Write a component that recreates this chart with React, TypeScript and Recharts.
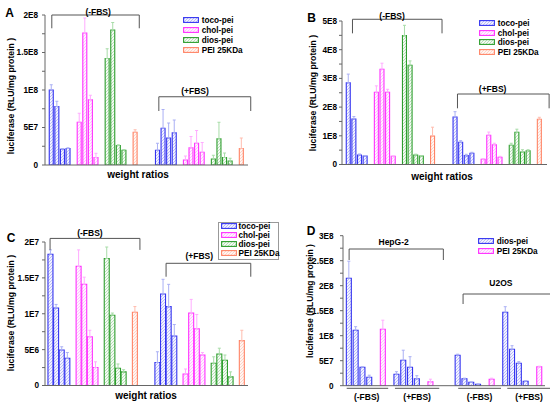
import React from 'react';
import { BarChart, Bar, XAxis, YAxis, ErrorBar, ReferenceLine, ReferenceDot } from 'recharts';

const FONT = '"Liberation Sans", Arial, Helvetica, sans-serif';
const AXIS = '#666666';
const BRACKET = '#555555';

// ---------- slot layout (category index of each bar) ----------
const ABC_TOCO_SLOTS = [0, 1, 2, 3, 19, 20, 21, 22];
const ABC_CHOL_SLOTS = [5, 6, 7, 8, 24, 25, 26, 27];
const ABC_DIOS_SLOTS = [10, 11, 12, 13, 29, 30, 31, 32];
const ABC_PEI_SLOTS = [15, 34];
const ABC_SLOT_COUNT = 35;
const D_DIOS_SLOTS = [0, 1, 2, 3, 7, 8, 9, 10, 16, 17, 18, 19, 23, 24, 25, 26];
const D_PEI_SLOTS = [5, 12, 21, 28];
const D_SLOT_COUNT = 29;

// ---------- legend labels ----------
const ABC_LEGEND = ['toco-pei', 'chol-pei', 'dios-pei', 'PEI 25KDa'];
const D_LEGEND = ['dios-pei', 'PEI 25KDa'];

// ---------- panel A values ((-FBS) x4, (+FBS) x4) ----------
const A_TOCO = [1.0e8, 7.8e7, 2.1e7, 2.2e7, 1.95e7, 4.9e7, 3.6e7, 4.3e7];
const A_TOCO_ERR = [7e6, 7e6, 1e6, 1e6, 9.5e6, 2.5e7, 2.0e7, 1.7e7];
const A_CHOL = [5.7e7, 1.76e8, 8.7e7, 1.0e7, 6.7e6, 2.3e7, 2.9e7, 1.7e7];
const A_CHOL_ERR = [1.2e7, 2.0e7, 6e6, 5.6e6, 5.3e6, 1.5e7, 1.7e7, 1.3e7];
const A_DIOS = [1.42e8, 1.8e8, 2.6e7, 1.95e7, 8e6, 3.5e7, 1.0e7, 5.3e6];
const A_DIOS_ERR = [1.3e7, 1.0e7, 1e6, 1e6, 5e6, 2.2e7, 6e6, 3.7e6];
const A_PEI = [4.35e7, 2.2e7];
const A_PEI_ERR = [3.5e6, 1.4e7];
const A_TICKS = [0, 2.5e7, 5e7, 7.5e7, 1e8, 1.25e8, 1.5e8, 1.75e8, 2e8];
const A_TICK_TEXT = ['0', '', '5E7', '', '1E8', '', '1.5E8', '', '2E8'];

// ---------- panel B values ----------
const B_TOCO = [2.85e8, 1.585e8, 3.3e7, 2.96e7, 1.655e8, 7.7e7, 3.1e7, 3.9e7];
const B_TOCO_ERR = [3.0e7, 8.5e6, 3.6e6, 1e6, 1.85e7, 6e6, 4.5e6, 3.5e6];
const B_CHOL = [2.52e8, 3.32e8, 2.52e8, 2.85e7, 1.8e7, 1.02e8, 6.9e7, 2.5e7];
const B_CHOL_ERR = [2.2e7, 2.1e7, 1.0e7, 1e6, 2e6, 1.1e7, 5e6, 3.5e6];
const B_DIOS = [4.49e8, 3.46e8, 3.3e7, 2.96e7, 6.7e7, 1.12e8, 4.35e7, 4.8e7];
const B_DIOS_ERR = [3.6e7, 1.5e7, 3e6, 1e6, 7e6, 1.1e7, 8e6, 3.5e6];
const B_PEI = [9.9e7, 1.575e8];
const B_PEI_ERR = [3.1e7, 7e6];
const B_TICKS = [0, 5e7, 1e8, 1.5e8, 2e8, 2.5e8, 3e8, 3.5e8, 4e8, 4.5e8, 5e8];
const B_TICK_TEXT = ['0', '', '1E8', '', '2E8', '', '3E8', '', '4E8', '', '5E8'];

// ---------- panel C values ----------
const C_TOCO = [1.83e7, 1.08e7, 4.95e6, 3.8e6, 3.2e6, 1.275e7, 1.1e7, 6.9e6];
const C_TOCO_ERR = [6e5, 5e5, 4.5e5, 8e5, 1.5e6, 2.05e6, 3.1e6, 1.6e6];
const C_CHOL = [1.66e7, 1.41e7, 6.8e6, 2.5e6, 1.6e6, 1.01e7, 7.9e6, 4.25e6];
const C_CHOL_ERR = [2.3e6, 1.0e6, 9e5, 8e5, 7e5, 1.9e6, 2.0e6, 3.5e5];
const C_DIOS = [1.77e7, 9.8e6, 2.4e6, 1.9e6, 3.1e6, 4.4e6, 3.5e6, 1.2e6];
const C_DIOS_ERR = [1.6e6, 3e5, 6e5, 3e5, 9e5, 8e5, 7.5e5, 7e5];
const C_PEI = [1.02e7, 6.25e6];
const C_PEI_ERR = [8e5, 1.45e6];
const C_TICKS = [0, 2.5e6, 5e6, 7.5e6, 1e7, 1.25e7, 1.5e7, 1.75e7, 2e7];
const C_TICK_TEXT = ['0', '', '5E6', '', '1E7', '', '1.5E7', '', '2E7'];

// ---------- panel D values (HepG-2 -FBS, +FBS, U2OS -FBS, +FBS) ----------
const D_DIOS = [2.15e8, 1.11e8, 3.7e7, 1.7e7, 2.3e7, 5.1e7, 3.7e7, 1.4e7, 6.1e7, 1.4e7, 7e6, 3e6, 1.47e8, 7.3e7, 4.5e7, 9e6];
const D_DIOS_ERR = [3.4e7, 7e6, 1e6, 4e6, 5e6, 2.0e7, 2.1e7, 6e6, 2e6, 1e6, 5e5, 5e5, 1.1e7, 7e6, 3e6, 1e6];
const D_PEI = [1.13e8, 8e6, 1.3e7, 3.8e7];
const D_PEI_ERR = [1.8e7, 5e6, 2e6, 1e6];
const D_TICKS = [0, 2.5e7, 5e7, 7.5e7, 1e8, 1.25e8, 1.5e8, 1.75e8, 2e8, 2.25e8, 2.5e8, 2.75e8, 3e8];
const D_TICK_TEXT = ['0', '', '5E7', '', '1E8', '', '1.5E8', '', '2E8', '', '2.5E8', '', '3E8'];

// ---------- colours ----------
type Col = { name: string; stroke: string; bg: string; line: string; err: string };
const BLUE: Col = { name: 'blue', stroke: '#3434f0', bg: '#f2f2ff', line: '#acb1f5', err: '#aab0f4' };
const MAGENTA: Col = { name: 'magenta', stroke: '#ff30ff', bg: '#fff3ff', line: '#ffb4ff', err: '#ffacff' };
const GREEN: Col = { name: 'green', stroke: '#2e9e2e', bg: '#f4faf4', line: '#aad8aa', err: '#a8dca8' };
const SALMON: Col = { name: 'salmon', stroke: '#ff8466', bg: '#fff6f3', line: '#ffcbbd', err: '#ffbcae' };
const COLORS = [BLUE, MAGENTA, GREEN, SALMON];

type SeriesDef = { key: string; slots: number[]; values: number[]; errs: number[]; color: Col };
type Bracket = { x1: number; x2: number; y: number; yLeg: number };
type TextMark = { x: number; y: number; text: string };

// annotation positions (in slot units on the annotation axis, data units on y)
const A_BRACKETS: Bracket[] = [
  { x1: 0.54, x2: 15.74, y: 2.0e8, yLeg: 1.823e8 },
  { x1: 19.14, x2: 35.11, y: 9.1e7, yLeg: 7.2e7 },
];
const A_TEXTS: TextMark[] = [
  { x: 8.59, y: 2.045e8, text: '(-FBS)' },
  { x: 25.42, y: 9.9e7, text: '(+FBS)' },
];
const B_BRACKETS: Bracket[] = [
  { x1: 1.17, x2: 16.65, y: 5.06e8, yLeg: 4.57e8 },
  { x1: 19.32, x2: 35.16, y: 2.456e8, yLeg: 1.958e8 },
];
const B_TEXTS: TextMark[] = [
  { x: 8.02, y: 5.19e8, text: '(-FBS)' },
  { x: 25.4, y: 2.62e8, text: '(+FBS)' },
];
const C_BRACKETS: Bracket[] = [
  { x1: 0.46, x2: 15.97, y: 2.05e7, yLeg: 1.89e7 },
  { x1: 20.48, x2: 35.1, y: 1.703e7, yLeg: 1.516e7 },
];
const C_TEXTS: TextMark[] = [
  { x: 7.34, y: 2.128e7, text: '(-FBS)' },
  { x: 26.2, y: 1.8e7, text: '(+FBS)' },
];
const D_BRACKETS: Bracket[] = [
  { x1: 0.49, x2: 13.87, y: 2.734e8, yLeg: 2.514e8 },
  { x1: 16.67, x2: 29.21, y: 1.834e8, yLeg: 1.634e8 },
  { x1: 0.15, x2: 6.04, y: -5.2e6, yLeg: -5.2e6 },
  { x1: 7.0, x2: 13.29, y: -5.2e6, yLeg: -5.2e6 },
  { x1: 15.98, x2: 22.06, y: -5.2e6, yLeg: -5.2e6 },
  { x1: 22.95, x2: 29.07, y: -5.2e6, yLeg: -5.2e6 },
];
const D_TEXTS: TextMark[] = [
  { x: 6.81, y: 2.88e8, text: 'HepG-2' },
  { x: 22.04, y: 2.048e8, text: 'U2OS' },
  { x: 2.98, y: -2.2e7, text: '(-FBS)' },
  { x: 10.15, y: -2.2e7, text: '(+FBS)' },
  { x: 19.02, y: -2.2e7, text: '(-FBS)' },
  { x: 26.04, y: -2.2e7, text: '(+FBS)' },
];

function makeSeries(keys: string[], slots: number[][], values: number[][], errs: number[][], cols: Col[]): SeriesDef[] {
  return keys.map((k, i) => ({ key: k, slots: slots[i], values: values[i], errs: errs[i], color: cols[i] }));
}

const A_SERIES = makeSeries(
  ['toco', 'chol', 'dios', 'pei'],
  [ABC_TOCO_SLOTS, ABC_CHOL_SLOTS, ABC_DIOS_SLOTS, ABC_PEI_SLOTS],
  [A_TOCO, A_CHOL, A_DIOS, A_PEI],
  [A_TOCO_ERR, A_CHOL_ERR, A_DIOS_ERR, A_PEI_ERR],
  COLORS,
);
const B_SERIES = makeSeries(
  ['toco', 'chol', 'dios', 'pei'],
  [ABC_TOCO_SLOTS, ABC_CHOL_SLOTS, ABC_DIOS_SLOTS, ABC_PEI_SLOTS],
  [B_TOCO, B_CHOL, B_DIOS, B_PEI],
  [B_TOCO_ERR, B_CHOL_ERR, B_DIOS_ERR, B_PEI_ERR],
  COLORS,
);
const C_SERIES = makeSeries(
  ['toco', 'chol', 'dios', 'pei'],
  [ABC_TOCO_SLOTS, ABC_CHOL_SLOTS, ABC_DIOS_SLOTS, ABC_PEI_SLOTS],
  [C_TOCO, C_CHOL, C_DIOS, C_PEI],
  [C_TOCO_ERR, C_CHOL_ERR, C_DIOS_ERR, C_PEI_ERR],
  COLORS,
);
const D_SERIES = makeSeries(
  ['dios', 'pei'],
  [D_DIOS_SLOTS, D_PEI_SLOTS],
  [D_DIOS, D_PEI],
  [D_DIOS_ERR, D_PEI_ERR],
  [BLUE, MAGENTA],
);

type PanelProps = {
  left: number; top: number; width: number; height: number;
  plot: { left: number; right: number; top: number; bottom: number };
  padL: number; padR: number; slotCount: number;
  yMax: number; yTicks: number[]; yTickText: string[]; tickMargin: number;
  series: SeriesDef[]; brackets: Bracket[]; texts: TextMark[];
};

function Panel(p: PanelProps) {
  const rows: any[] = Array.from({ length: p.slotCount }, (_, i) => ({ slot: i }));
  p.series.forEach((s) => {
    s.slots.forEach((slot, j) => {
      rows[slot][s.key] = s.values[j];
      rows[slot][s.key + 'Err'] = [0, s.errs[j]];
    });
  });
  const axisIds = p.series.map((_, i) => 'c' + i);
  const pad = { left: p.padL, right: p.padR };
  // plot area edges in chart-local pixels; 1px reserved for each visible axis
  const margin = {
    top: p.plot.top,
    left: p.plot.left - 1,
    right: p.width - p.plot.right,
    bottom: p.height - p.plot.bottom - 1,
  };
  return (
    <div style={{ position: 'absolute', left: p.left, top: p.top }}>
      <BarChart width={p.width} height={p.height} data={rows} margin={margin} barCategoryGap="10%" barGap={0}>
        {axisIds.map((id, i) => (
          <XAxis
            key={id}
            xAxisId={id}
            dataKey="slot"
            type="category"
            hide={i > 0}
            height={1}
            tick={false}
            tickLine={false}
            axisLine={{ stroke: AXIS, strokeWidth: 1 }}
            padding={pad}
          />
        ))}
        <XAxis xAxisId="num" type="number" domain={[0, p.slotCount]} hide padding={pad} allowDataOverflow />
        <YAxis
          width={1}
          domain={[0, p.yMax]}
          ticks={p.yTicks}
          interval={0}
          allowDataOverflow
          tickFormatter={(v: number) => p.yTickText[p.yTicks.indexOf(v)] ?? ''}
          tickSize={3}
          tickMargin={p.tickMargin}
          tick={{ fontSize: 8.2, fontWeight: 'bold', fill: '#000', fontFamily: FONT }}
          axisLine={{ stroke: AXIS, strokeWidth: 1 }}
          tickLine={{ stroke: AXIS, strokeWidth: 1 }}
        />
        {p.series.map((s, i) => (
          <Bar
            key={s.key}
            xAxisId={axisIds[i]}
            dataKey={s.key}
            fill={`url(#hatch-${s.color.name})`}
            stroke={s.color.stroke}
            strokeWidth={1.1}
            isAnimationActive={false}
          >
            <ErrorBar dataKey={s.key + 'Err'} width={1.5} stroke={s.color.err} strokeWidth={1} direction="y" />
          </Bar>
        ))}
        {p.brackets.map((b, i) => (
          <ReferenceLine
            key={'h' + i}
            xAxisId="num"
            segment={[{ x: b.x1, y: b.y }, { x: b.x2, y: b.y }]}
            stroke={BRACKET}
            strokeWidth={1}
            ifOverflow="visible"
          />
        ))}
        {p.brackets.filter((b) => b.yLeg !== b.y).map((b, i) => (
          <ReferenceLine
            key={'l' + i}
            xAxisId="num"
            segment={[{ x: b.x1, y: b.y }, { x: b.x1, y: b.yLeg }]}
            stroke={BRACKET}
            strokeWidth={1}
            ifOverflow="visible"
          />
        ))}
        {p.brackets.filter((b) => b.yLeg !== b.y).map((b, i) => (
          <ReferenceLine
            key={'r' + i}
            xAxisId="num"
            segment={[{ x: b.x2, y: b.y }, { x: b.x2, y: b.yLeg }]}
            stroke={BRACKET}
            strokeWidth={1}
            ifOverflow="visible"
          />
        ))}
        {p.texts.map((t, i) => (
          <ReferenceDot
            key={'t' + i}
            xAxisId="num"
            x={t.x}
            y={t.y}
            r={0}
            stroke="none"
            fill="none"
            ifOverflow="visible"
            label={{ value: t.text, position: 'center', fontSize: 8.5, fontWeight: 'bold', fill: '#000', fontFamily: FONT }}
          />
        ))}
      </BarChart>
    </div>
  );
}

function Legend({ left, textLeft, rows, labels, colors, box }: { left: number; textLeft: number; rows: number[]; labels: string[]; colors: Col[]; box?: { l: number; t: number; w: number; h: number } }) {
  return (
    <>
      {box && (
        <div style={{ position: 'absolute', left: box.l, top: box.t, width: box.w, height: box.h, border: '1px solid #999', boxSizing: 'border-box' }} />
      )}
      {labels.map((lab, i) => (
        <React.Fragment key={lab}>
          <svg style={{ position: 'absolute', left, top: rows[i] - 3 }} width={16} height={6}>
            <rect x={0.6} y={0.6} width={14.8} height={4.8} fill={`url(#hatch-${colors[i].name})`} stroke={colors[i].stroke} strokeWidth={1.1} />
          </svg>
          <div
            style={{
              position: 'absolute', left: textLeft, top: rows[i], transform: 'translateY(-50%)',
              fontFamily: FONT, fontSize: 8.2, fontWeight: 'bold', whiteSpace: 'nowrap', lineHeight: '9px', color: '#000',
            }}
          >
            {lab}
          </div>
        </React.Fragment>
      ))}
    </>
  );
}

function Txt({ x, y, text, size, rotate }: { x: number; y: number; text: string; size: number; rotate?: boolean }) {
  return (
    <div
      style={{
        position: 'absolute', left: x, top: y,
        transform: `translate(-50%, -50%)${rotate ? ' rotate(-90deg)' : ''}`,
        fontFamily: FONT, fontSize: size, fontWeight: 'bold', whiteSpace: 'nowrap', lineHeight: 1, color: '#000',
      }}
    >
      {text}
    </div>
  );
}

const Y_TITLE = 'luciferase (RLU/mg protein )';
const X_TITLE = 'weight ratios';

export default function App() {
  return (
    <div style={{ position: 'absolute', left: 0, top: 0, width: 550, height: 405, background: '#fff', overflow: 'hidden' }}>
      <svg width={0} height={0} style={{ position: 'absolute' }}>
        <defs>
          {COLORS.map((c) => (
            <pattern key={c.name} id={`hatch-${c.name}`} patternUnits="userSpaceOnUse" width={3} height={3}>
              <rect width={3} height={3} fill={c.bg} />
              <path d="M-0.75,0.75 L0.75,-0.75 M0,3 L3,0 M2.25,3.75 L3.75,2.25" stroke={c.line} strokeWidth={0.8} />
            </pattern>
          ))}
        </defs>
      </svg>

      <Panel
        left={0} top={0} width={275} height={200}
        plot={{ left: 45, right: 248, top: 15, bottom: 165 }}
        padL={3.7} padR={3.65} slotCount={ABC_SLOT_COUNT}
        yMax={2e8} yTicks={A_TICKS} yTickText={A_TICK_TEXT} tickMargin={4}
        series={A_SERIES} brackets={A_BRACKETS} texts={A_TEXTS}
      />
      <Panel
        left={275} top={0} width={275} height={200}
        plot={{ left: 67, right: 272, top: 21, bottom: 164.5 }}
        padL={3.7} padR={4.6} slotCount={ABC_SLOT_COUNT}
        yMax={5e8} yTicks={B_TICKS} yTickText={B_TICK_TEXT} tickMargin={2}
        series={B_SERIES} brackets={B_BRACKETS} texts={B_TEXTS}
      />
      <Panel
        left={0} top={200} width={275} height={205}
        plot={{ left: 45, right: 248, top: 42, bottom: 185.5 }}
        padL={2.4} padR={3.6} slotCount={ABC_SLOT_COUNT}
        yMax={2e7} yTicks={C_TICKS} yTickText={C_TICK_TEXT} tickMargin={3}
        series={C_SERIES} brackets={C_BRACKETS} texts={C_TEXTS}
      />
      <Panel
        left={275} top={200} width={275} height={205}
        plot={{ left: 68, right: 270, top: 35.7, bottom: 185.7 }}
        padL={2.66} padR={2.14} slotCount={D_SLOT_COUNT}
        yMax={3e8} yTicks={D_TICKS} yTickText={D_TICK_TEXT} tickMargin={6.5}
        series={D_SERIES} brackets={D_BRACKETS} texts={D_TEXTS}
      />

      <Legend left={183.3} textLeft={201.7} rows={[20, 30, 40, 49.5]} labels={ABC_LEGEND} colors={COLORS} />
      <Legend left={479} textLeft={497.7} rows={[23.3, 32.7, 42.3, 51.7]} labels={ABC_LEGEND} colors={COLORS} />
      <Legend left={220.7} textLeft={238.5} rows={[226, 235, 244, 253]} labels={ABC_LEGEND} colors={COLORS} box={{ l: 218, t: 221.5, w: 61, h: 38.5 }} />
      <Legend left={478.3} textLeft={496.7} rows={[241, 251]} labels={D_LEGEND} colors={[BLUE, MAGENTA]} />

      <Txt x={9.5} y={13.3} text="A" size={12} />
      <Txt x={311.5} y={18.3} text="B" size={12} />
      <Txt x={11} y={237.5} text="C" size={12} />
      <Txt x={311} y={231.3} text="D" size={12} />

      <Txt x={10.7} y={96} text={Y_TITLE} size={8.7} rotate />
      <Txt x={312.7} y={93.3} text={Y_TITLE} size={8.7} rotate />
      <Txt x={11} y={312.5} text={Y_TITLE} size={8.7} rotate />
      <Txt x={310} y={300.8} text={Y_TITLE} size={8.5} rotate />

      <Txt x={138} y={175} text={X_TITLE} size={10} />
      <Txt x={442} y={176.7} text={X_TITLE} size={10} />
      <Txt x={146} y={396} text={X_TITLE} size={10} />
    </div>
  );
}
